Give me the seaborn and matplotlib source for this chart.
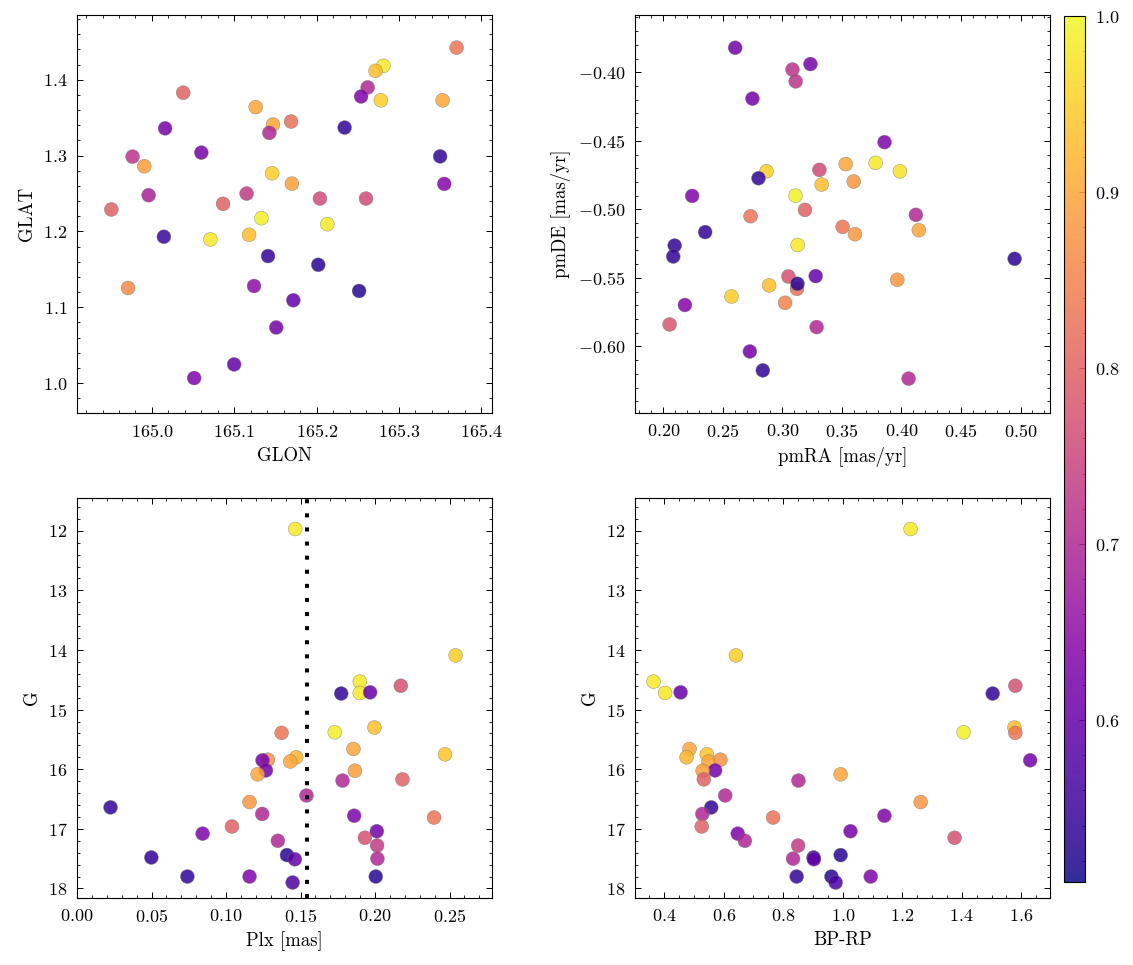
import numpy as np
import pandas as pd
import matplotlib
matplotlib.use("Agg")
import matplotlib.pyplot as plt
import seaborn as sns
from matplotlib.colors import Normalize
from matplotlib.cm import ScalarMappable
from matplotlib.ticker import AutoMinorLocator

# ---------------- data ----------------
glon = [165.370, 165.281, 165.2715, 165.262, 165.254, 165.278, 165.353, 165.038, 165.126, 165.147,
        165.1426, 165.169, 165.016, 165.234, 164.9765, 165.060, 165.350, 164.9907, 165.146, 165.170,
        165.355, 164.996, 165.115, 165.204, 165.260, 164.9507, 165.0864, 165.133, 165.213, 165.071,
        165.118, 165.0145, 165.141, 165.202, 164.971, 165.124, 165.2516, 165.1717, 165.151, 165.0998,
        165.0513]
glat = [1.4425, 1.4184, 1.4118, 1.390, 1.378, 1.373, 1.373, 1.383, 1.364, 1.341,
        1.330, 1.345, 1.336, 1.337, 1.2987, 1.304, 1.299, 1.286, 1.2767, 1.263,
        1.2627, 1.2478, 1.250, 1.2434, 1.2434, 1.229, 1.2364, 1.2175, 1.2096, 1.1895,
        1.1956, 1.193, 1.1675, 1.156, 1.1254, 1.128, 1.1215, 1.1092, 1.0733, 1.0246,
        1.0066]
sky_prob = [0.83, 0.98, 0.93, 0.70, 0.63, 0.95, 0.90, 0.80, 0.90, 0.90,
            0.70, 0.82, 0.62, 0.54, 0.72, 0.62, 0.54, 0.89, 0.95, 0.89,
            0.64, 0.69, 0.73, 0.76, 0.76, 0.80, 0.80, 0.99, 0.98, 0.98,
            0.93, 0.55, 0.54, 0.53, 0.86, 0.65, 0.53, 0.60, 0.62, 0.60,
            0.63]

pmra = [0.2604, 0.3236, 0.3085, 0.3112, 0.2749, 0.3858, 0.2867, 0.2800, 0.3311, 0.3532,
        0.3783, 0.3987, 0.3599, 0.3330, 0.2243, 0.3110, 0.3190, 0.2733, 0.4121, 0.3506,
        0.3610, 0.4146, 0.2352, 0.2096, 0.2084, 0.3129, 0.4950, 0.3051, 0.3280, 0.3123,
        0.3127, 0.3965, 0.2889, 0.2573, 0.3023, 0.2182, 0.2054, 0.3288, 0.2727, 0.2836,
        0.4060]
pmde = [-0.3821, -0.394, -0.398, -0.4066, -0.4192, -0.451, -0.4722, -0.4773, -0.4712, -0.467,
        -0.4661, -0.4722, -0.4797, -0.4819, -0.4902, -0.490, -0.5004, -0.505, -0.504, -0.5128,
        -0.5181, -0.5152, -0.5166, -0.5264, -0.5344, -0.526, -0.5361, -0.549, -0.5487, -0.558,
        -0.5543, -0.5514, -0.5555, -0.5636, -0.5682, -0.5698, -0.584, -0.5859, -0.6037, -0.6175,
        -0.6235]
pm_prob = [0.62, 0.62, 0.72, 0.72, 0.62, 0.63, 0.95, 0.54, 0.76, 0.90,
           0.98, 0.97, 0.88, 0.93, 0.63, 0.99, 0.80, 0.83, 0.70, 0.83,
           0.88, 0.90, 0.54, 0.54, 0.54, 0.98, 0.53, 0.77, 0.60, 0.82,
           0.53, 0.88, 0.93, 0.95, 0.85, 0.64, 0.78, 0.70, 0.62, 0.54,
           0.70]

plx = [0.1464, 0.2541, 0.1898, 0.1898, 0.1773, 0.1967, 0.2173, 0.1730, 0.1996, 0.1373,
       0.1855, 0.2470, 0.1471, 0.1431, 0.1281, 0.1245, 0.1268, 0.1212, 0.1865, 0.1782,
       0.2184, 0.1540, 0.0225, 0.1158, 0.1243, 0.1860, 0.2396, 0.1040, 0.0843, 0.2012,
       0.1932, 0.1348, 0.2014, 0.0499, 0.1409, 0.1462, 0.2016, 0.0741, 0.1158, 0.2005,
       0.1447]
gmag = [11.97, 14.09, 14.53, 14.72, 14.73, 14.71, 14.60, 15.38, 15.30, 15.39,
        15.66, 15.75, 15.80, 15.87, 15.84, 15.85, 16.02, 16.085, 16.025, 16.19,
        16.17, 16.44, 16.64, 16.55, 16.75, 16.78, 16.81, 16.96, 17.08, 17.04,
        17.15, 17.20, 17.28, 17.48, 17.44, 17.51, 17.50, 17.80, 17.80, 17.80,
        17.90]
bprp = [1.228, 0.641, 0.364, 0.403, 1.504, 0.455, 1.580, 1.406, 1.577, 1.580,
        0.485, 0.543, 0.475, 0.549, 0.589, 1.630, 0.571, 0.993, 0.529, 0.851,
        0.533, 0.605, 0.558, 1.262, 0.528, 1.140, 0.766, 0.526, 0.647, 1.026,
        1.376, 0.671, 0.850, 0.902, 0.993, 0.903, 0.833, 0.845, 1.094, 0.962,
        0.976]
phot_prob = [0.98, 0.95, 0.98, 0.98, 0.54, 0.60, 0.77, 0.99, 0.93, 0.83,
             0.90, 0.94, 0.92, 0.90, 0.87, 0.62, 0.62, 0.90, 0.89, 0.70,
             0.80, 0.70, 0.54, 0.88, 0.70, 0.63, 0.83, 0.80, 0.63, 0.62,
             0.77, 0.70, 0.73, 0.54, 0.53, 0.60, 0.70, 0.54, 0.63, 0.53,
             0.57]
plx_cut = 0.1543
prob_min, prob_max = 0.508, 1.0

sky = pd.DataFrame({"GLON": glon, "GLAT": glat, "prob": sky_prob})
pm = pd.DataFrame({"pmRA": pmra, "pmDE": pmde, "prob": pm_prob})
phot = pd.DataFrame({"Plx": plx, "G": gmag, "BPRP": bprp, "prob": phot_prob})

# ---------------- style ----------------
sns.set_theme(style="ticks")
plt.rcParams.update({
    "font.family": ["serif"],
    "font.serif": ["cmr10", "DejaVu Serif"],
    "mathtext.fontset": "cm",
    "axes.formatter.use_mathtext": True,
    "font.size": 13,
    "axes.labelsize": 13.5,
    "xtick.labelsize": 13,
    "ytick.labelsize": 13,
    "text.color": "black",
    "axes.labelcolor": "black",
    "axes.linewidth": 0.8,
    "axes.edgecolor": "black",
    "xtick.direction": "in",
    "ytick.direction": "in",
    "xtick.top": True,
    "ytick.right": True,
    "xtick.major.size": 4.5,
    "ytick.major.size": 4.5,
    "xtick.minor.size": 2.5,
    "ytick.minor.size": 2.5,
    "xtick.major.width": 0.7,
    "ytick.major.width": 0.7,
    "xtick.minor.width": 0.6,
    "ytick.minor.width": 0.6,
    "xtick.color": "black",
    "ytick.color": "black",
    "xtick.labelcolor": "black",
    "ytick.labelcolor": "black",
    "axes.unicode_minus": True,
})

fig = plt.figure(figsize=(11.33, 9.65), dpi=100)
W, H = 1133, 965
ax1 = fig.add_axes([77 / W, 1 - 413 / H, 415 / W, 398 / H])
ax2 = fig.add_axes([635 / W, 1 - 413 / H, 415 / W, 398 / H])
ax3 = fig.add_axes([77 / W, 1 - 898 / H, 415 / W, 400 / H])
ax4 = fig.add_axes([635 / W, 1 - 898 / H, 415 / W, 400 / H])
cax = fig.add_axes([1064 / W, 1 - 882 / H, 21 / W, 866 / H])

norm = Normalize(prob_min, prob_max)
kw = dict(hue="prob", palette="plasma", hue_norm=norm, legend=False,
          s=100, alpha=0.85, edgecolor="0.45", linewidth=0.3)

sns.scatterplot(data=sky, x="GLON", y="GLAT", ax=ax1, **kw)
sns.scatterplot(data=pm, x="pmRA", y="pmDE", ax=ax2, **kw)
sns.scatterplot(data=phot, x="Plx", y="G", ax=ax3, **kw)
sns.scatterplot(data=phot, x="BPRP", y="G", ax=ax4, **kw)

ax3.axvline(plx_cut, color="black", lw=2.9, linestyle=(0, (1, 2.5)))

ax1.set_xlim(164.909, 165.413)
ax1.set_ylim(0.9605, 1.4855)
ax1.set_xticks([165.0, 165.1, 165.2, 165.3, 165.4])
ax1.set_yticks([1.0, 1.1, 1.2, 1.3, 1.4])
ax1.set_xlabel("GLON")
ax1.set_ylabel("GLAT")

ax2.set_xlim(0.1763, 0.5247)
ax2.set_ylim(-0.6486, -0.3582)
ax2.set_xticks([0.20, 0.25, 0.30, 0.35, 0.40, 0.45, 0.50])
ax2.set_yticks([-0.60, -0.55, -0.50, -0.45, -0.40])
ax2.set_xlabel("pmRA [mas/yr]")
ax2.set_ylabel("pmDE [mas/yr]")

ax3.set_xlim(0.0, 0.2785)
ax3.set_ylim(18.16, 11.45)
ax3.set_xticks([0.00, 0.05, 0.10, 0.15, 0.20, 0.25])
ax3.set_yticks([12, 13, 14, 15, 16, 17, 18])
ax3.set_xlabel("Plx [mas]")
ax3.set_ylabel("G")

ax4.set_xlim(0.3017, 1.6966)
ax4.set_ylim(18.16, 11.45)
ax4.set_xticks([0.4, 0.6, 0.8, 1.0, 1.2, 1.4, 1.6])
ax4.set_yticks([12, 13, 14, 15, 16, 17, 18])
ax4.set_xlabel("BP-RP")
ax4.set_ylabel("G")

for ax in (ax1, ax2, ax3, ax4):
    ax.xaxis.set_minor_locator(AutoMinorLocator())
    ax.yaxis.set_minor_locator(AutoMinorLocator())
    ax.tick_params(which="both", direction="in", top=True, right=True)
    ax.tick_params(which="major", pad=7)
    ax.xaxis.labelpad = 5
    ax.yaxis.labelpad = 5
    for sp in ax.spines.values():
        sp.set_visible(True)
        sp.set_color("black")

sm = ScalarMappable(norm=norm, cmap="plasma")
sm.set_array([])
cb = fig.colorbar(sm, cax=cax, alpha=0.85)
cb.set_ticks([0.6, 0.7, 0.8, 0.9, 1.0])
cb.ax.yaxis.set_minor_locator(AutoMinorLocator(5))
cb.ax.tick_params(which="both", direction="in", right=True, left=False)
cb.ax.tick_params(which="major", length=4.5, pad=7)
cb.ax.tick_params(which="minor", length=2.5)
cb.outline.set_linewidth(0.8)

fig.savefig("out.png", dpi=100)
